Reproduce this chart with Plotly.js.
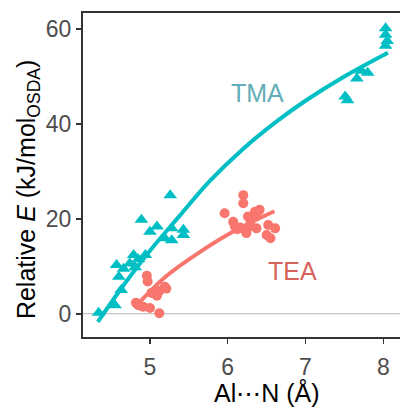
<!DOCTYPE html>
<html><head><meta charset="utf-8">
<script src="https://cdn.plot.ly/plotly-3.0.1.min.js"></script>
<style>html,body{margin:0;padding:0;background:#fff;overflow:hidden}#chart{width:400px;height:410px}</style>
</head><body><div id="chart"></div>
<script>
// TMA data (Al···N distance, relative energy)
const tmaX = [4.34,4.55,4.63,4.60,4.57,4.66,4.74,4.79,4.81,4.85,4.94,4.89,5.00,5.09,5.26,5.19,5.28,5.28,5.43,5.43,
              7.51,7.54,7.66,7.72,7.80,8.03,8.03,8.05,8.03];
const tmaY = [0.2,1.8,5.0,7.8,10.3,9.5,10.6,12.4,9.8,11.5,12.4,19.8,17.3,18.4,25.0,15.9,15.5,18.0,17.7,16.6,
              45.8,45.0,49.6,51.2,50.8,60.2,58.8,57.5,56.5];
// TEA data
const teaX = [4.82,4.85,4.91,5.00,5.12,4.96,4.97,5.02,5.09,5.12,5.19,5.21,
              6.20,6.20,5.96,6.07,6.09,6.16,6.22,6.24,6.29,6.35,6.41,6.37,6.37,6.30,6.50,6.55,6.52,6.61,6.26,6.12];
const teaY = [2.3,1.8,1.5,1.2,0.1,8.0,6.8,4.4,3.8,4.8,5.7,5.3,
              25.0,23.3,21.2,19.4,18.5,18.2,17.7,17.0,19.8,21.5,21.9,21.0,18.0,18.5,16.6,15.9,18.7,18.0,20.5,17.8];
// fitted trend curves
const tmaFitX = [4.33,4.70,5.00,5.40,5.77,6.20,6.60,7.00,7.50,8.06];
const tmaFitY = [-1.7,6.9,13.3,21.0,28.0,34.8,40.2,44.9,50.0,55.0];
const teaFitX = [4.83,5.20,5.64,6.10,6.60];
const teaFitY = [1.8,7.8,13.0,17.6,21.6];
const xTicks = [5,6,7,8];
const yTicks = [0,20,40,60];

const TMA = '#00BFC4', TEA = '#F8766D';
const traces = [
  {x: tmaFitX, y: tmaFitY, mode: 'lines', line: {color: TMA, width: 4, shape: 'spline'}, hoverinfo: 'skip'},
  {x: teaFitX, y: teaFitY, mode: 'lines', line: {color: TEA, width: 4, shape: 'spline'}, hoverinfo: 'skip'},
  {x: tmaX, y: tmaY, mode: 'markers', marker: {symbol: 'triangle-up', size: 12, color: TMA}},
  {x: teaX, y: teaY, mode: 'markers', marker: {symbol: 'circle', size: 10, color: TEA}}
];
const layout = {
  width: 400, height: 410,
  margin: {l: 83, r: 0, t: 13, b: 73},
  showlegend: false,
  paper_bgcolor: '#fff', plot_bgcolor: '#fff',
  font: {family: 'Liberation Sans, Arial, sans-serif'},
  xaxis: {range: [4.139, 8.215], tickvals: xTicks, ticks: 'outside', ticklen: 5, tickwidth: 1.5, tickcolor: '#333',
          showgrid: false, zeroline: false, showline: true, mirror: true, linecolor: '#333', linewidth: 2,
          ticklabelstandoff: 3, tickfont: {size: 23, color: '#4d4d4d'}},
  yaxis: {range: [-4.9, 63.4], tickvals: yTicks, ticks: 'outside', ticklen: 5, tickwidth: 1.5, tickcolor: '#333',
          showgrid: false, zeroline: false, showline: true, mirror: false, linecolor: '#333', linewidth: 2,
          tickfont: {size: 23, color: '#4d4d4d'}},
  shapes: [{type: 'line', xref: 'paper', x0: 0, x1: 1, yref: 'y', y0: 0, y1: 0, line: {color: '#b3b3b3', width: 1}, layer: 'below'}],
  annotations: [
    {text: 'TMA', x: 6.38, y: 46.6, xref: 'x', yref: 'y', showarrow: false, font: {size: 25, color: '#62aeb6'}},
    {text: 'TEA', x: 6.83, y: 9.1, xref: 'x', yref: 'y', showarrow: false, font: {size: 25, color: '#d6625c'}},
    {text: 'Al⋯N (Å)', xref: 'paper', yref: 'paper', x: 0.582, y: -0.17, xanchor: 'center', yanchor: 'middle',
     showarrow: false, font: {size: 25, color: '#000'}},
    {text: 'Relative <i>E</i> (kJ/mol<sub>OSDA</sub>)', xref: 'paper', yref: 'paper', x: -0.175, y: 0.455,
     xanchor: 'center', yanchor: 'middle', textangle: -90, showarrow: false, font: {size: 25, color: '#000'}}
  ]
};
Plotly.newPlot('chart', traces, layout, {staticPlot: true, displayModeBar: false});
</script></body></html>
